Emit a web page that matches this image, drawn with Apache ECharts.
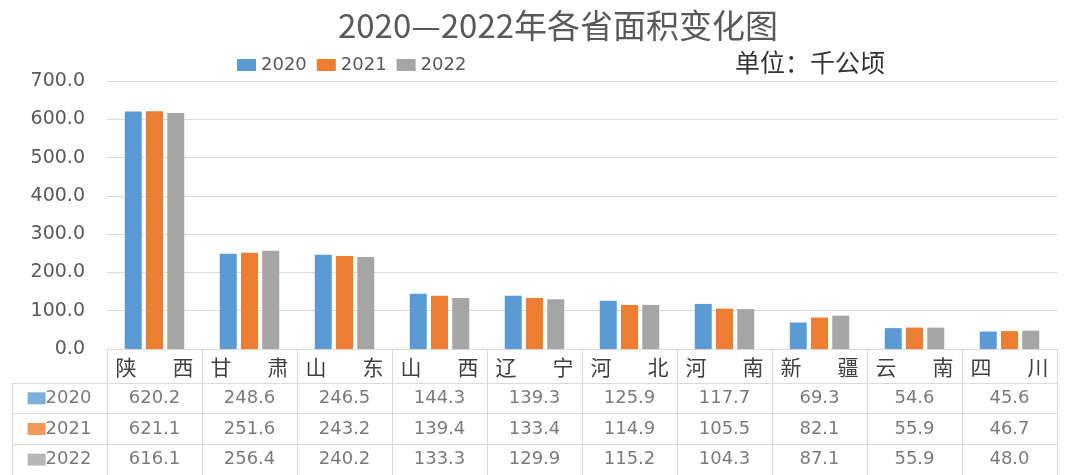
<!DOCTYPE html>
<html>
<head>
<meta charset="utf-8">
<script src="https://cdn.jsdelivr.net/npm/echarts@6/dist/echarts.min.js"></script>
<style>
  html, body { margin: 0; padding: 0; background: #fff; }
  #main { width: 1067px; height: 475px; }
</style>
</head>
<body>
<div id="main"></div>
<script>
// 数据
const provinces = ['陕西', '甘肃', '山东', '山西', '辽宁', '河北', '河南', '新疆', '云南', '四川']
const years = ['2020', '2021', '2022']
const data2020 = [620.2, 248.6, 246.5, 144.3, 139.3, 125.9, 117.7, 69.3, 54.6, 45.6]
const data2021 = [621.1, 251.6, 243.2, 139.4, 133.4, 114.9, 105.5, 82.1, 55.9, 46.7]
const data2022 = [616.1, 256.4, 240.2, 133.3, 129.9, 115.2, 104.3, 87.1, 55.9, 48.0]
const yTicks = [0, 100, 200, 300, 400, 500, 600, 700]

const colors = ['#5B9BD5', '#ED7D31', '#A5A5A5']
const seriesData = [data2020, data2021, data2022]
const lineColor = '#d9d9d9'
const textColor = '#595959'
const numFont = 'DejaVu Sans'
const cjkFont = 'Noto Sans CJK SC'

const myChart = echarts.init(document.querySelector('#main'))

// 表格单元格 => 散点 + 标签
const tableCells = []
years.forEach((y, r) => {
  tableCells.push([0, r, `{b${r}| }{num|${y}}`])
  seriesData[r].forEach((v, c) => {
    tableCells.push([c + 1, r, `{num|${v.toFixed(1)}}`])
  })
})

const option = {
  animation: false,
  color: colors,
  title: {
    text: '2020—2022年各省面积变化图',
    left: 553,
    textAlign: 'center',
    top: 4,
    textStyle: { fontSize: 33, fontWeight: 'normal', color: textColor, fontFamily: cjkFont }
  },
  legend: {
    left: 232,
    top: 51,
    itemWidth: 19,
    itemHeight: 12,
    itemGap: 10,
    icon: 'rect',
    textStyle: { fontSize: 18, color: textColor, fontFamily: numFont },
    data: years
  },
  graphic: [{
    type: 'text',
    left: 735,
    top: 50,
    style: { text: '单位：千公顷', fontSize: 25, fill: '#333', fontFamily: cjkFont }
  }],
  grid: [
    { left: 107, right: 10, top: 81, bottom: 126 },
    { left: 12, right: 10, top: 383, height: 92 }
  ],
  xAxis: [
    {
      gridIndex: 0,
      type: 'category',
      data: provinces,
      axisLine: { lineStyle: { color: lineColor, width: 1 } },
      // 刻度线往下延伸 => 表头竖线
      axisTick: { show: true, length: 34, lineStyle: { color: lineColor } },
      axisLabel: {
        margin: 8,
        formatter: v => `{p|${v[0]}}{q|${v[1]}}`,
        rich: {
          p: { fontSize: 21, color: '#404040', fontFamily: cjkFont, padding: [0, 36, 0, 0] },
          q: { fontSize: 21, color: '#404040', fontFamily: cjkFont }
        }
      }
    },
    {
      gridIndex: 1,
      type: 'category',
      data: [''].concat(provinces),
      axisLine: { show: false },
      axisTick: { show: false },
      axisLabel: { show: false },
      splitLine: { show: true, lineStyle: { color: lineColor } }
    }
  ],
  yAxis: [
    {
      gridIndex: 0,
      type: 'value',
      min: 0,
      max: 700,
      interval: 100,
      axisLine: { show: false },
      axisTick: { show: false },
      axisLabel: {
        margin: 22,
        color: textColor,
        fontSize: 19,
        fontFamily: numFont,
        formatter: v => yTicks.includes(v) ? v.toFixed(1) : ''
      },
      splitLine: { lineStyle: { color: lineColor } }
    },
    {
      gridIndex: 1,
      type: 'category',
      inverse: true,
      data: years,
      axisLine: { show: false },
      axisTick: { show: false },
      axisLabel: { show: false },
      splitLine: { show: true, lineStyle: { color: lineColor } }
    }
  ],
  series: [
    ...years.map((y, i) => ({
      name: y,
      type: 'bar',
      xAxisIndex: 0,
      yAxisIndex: 0,
      barWidth: 17,
      barGap: '25%',
      data: seriesData[i]
    })),
    {
      type: 'scatter',
      xAxisIndex: 1,
      yAxisIndex: 1,
      symbolSize: 0,
      silent: true,
      data: tableCells,
      label: {
        show: true,
        position: 'inside',
        formatter: p => p.data[2],
        rich: {
          num: { fontSize: 18, color: textColor, fontFamily: numFont },
          b0: { backgroundColor: colors[0], width: 18, height: 12 },
          b1: { backgroundColor: colors[1], width: 18, height: 12 },
          b2: { backgroundColor: colors[2], width: 18, height: 12 }
        }
      }
    }
  ]
}
myChart.setOption(option)
</script>
</body>
</html>
